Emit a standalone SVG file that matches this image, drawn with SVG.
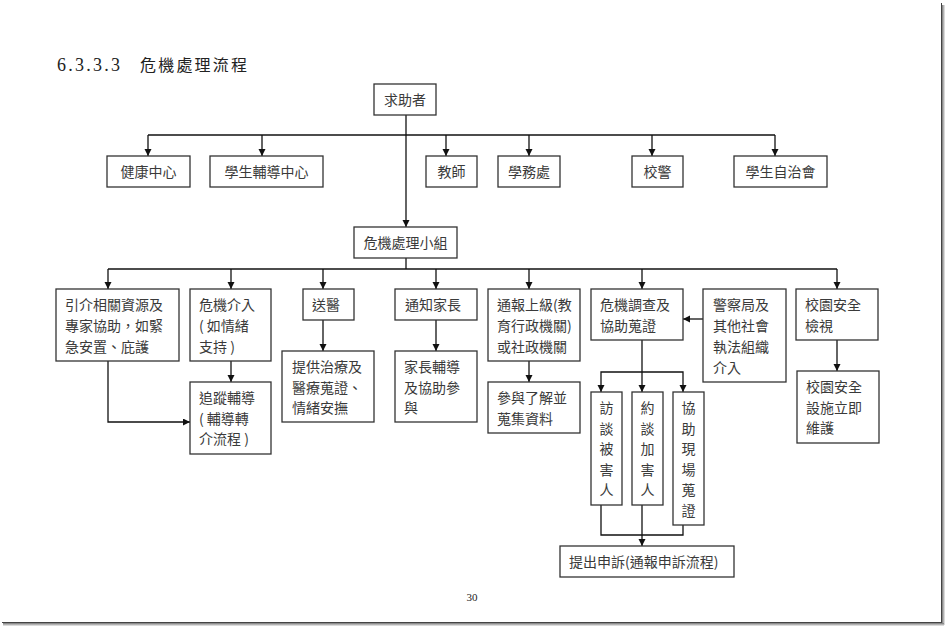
<svg xmlns="http://www.w3.org/2000/svg" width="945" height="627" viewBox="0 0 945 627">
<defs>
<marker id="ah" markerUnits="userSpaceOnUse" markerWidth="8" markerHeight="8" refX="7" refY="3.5" orient="auto">
<path d="M0,0 L7,3.5 L0,7 z" fill="#111"/>
</marker>
<linearGradient id="shR" x1="0" y1="0" x2="1" y2="0"><stop offset="0" stop-color="#777"/><stop offset="1" stop-color="#eee"/></linearGradient>
<linearGradient id="shB" x1="0" y1="0" x2="0" y2="1"><stop offset="0" stop-color="#777"/><stop offset="1" stop-color="#eee"/></linearGradient>
</defs>
<style>
.box{fill:#fff;stroke:#333;stroke-width:1.3}
.t{font-family:"Noto Sans CJK TC","Noto Sans CJK SC",sans-serif;font-size:14px;fill:#3a3a3a}
.c{text-anchor:middle}
.ln{fill:none;stroke:#111;stroke-width:1.3}
</style>
<rect width="945" height="627" fill="#fff"/>
<!-- page frame -->
<rect x="942" y="5" width="3" height="620" fill="url(#shR)"/>
<rect x="3" y="623" width="941" height="3" fill="url(#shB)"/>
<line x1="941.5" y1="3" x2="941.5" y2="623" stroke="#444" stroke-width="1"/>
<line x1="2" y1="622.5" x2="942" y2="622.5" stroke="#444" stroke-width="1"/>

<text x="57" y="71" font-family="Liberation Serif, serif" font-size="18" fill="#222" textLength="63" lengthAdjust="spacing">6.3.3.3</text>
<text x="140" y="71" font-family="Noto Sans CJK TC, sans-serif" font-size="16" fill="#222" letter-spacing="2.2">危機處理流程</text>

<g id="connectors">
<path class="ln" d="M406 115 V227" marker-end="url(#ah)"/>
<path class="ln" d="M148 135 H775"/>
<path class="ln" d="M148 135 V156" marker-end="url(#ah)"/>
<path class="ln" d="M262 135 V156" marker-end="url(#ah)"/>
<path class="ln" d="M446 135 V156" marker-end="url(#ah)"/>
<path class="ln" d="M529 135 V156" marker-end="url(#ah)"/>
<path class="ln" d="M652 135 V156" marker-end="url(#ah)"/>
<path class="ln" d="M775 135 V156" marker-end="url(#ah)"/>
<path class="ln" d="M406 258 V269"/>
<path class="ln" d="M108 269 H837"/>
<path class="ln" d="M108 269 V289" marker-end="url(#ah)"/>
<path class="ln" d="M231 269 V289" marker-end="url(#ah)"/>
<path class="ln" d="M323 269 V289" marker-end="url(#ah)"/>
<path class="ln" d="M436 269 V289" marker-end="url(#ah)"/>
<path class="ln" d="M529 269 V289" marker-end="url(#ah)"/>
<path class="ln" d="M642 269 V289" marker-end="url(#ah)"/>
<path class="ln" d="M837 269 V289" marker-end="url(#ah)"/>
<path class="ln" d="M108 361 V422 H190" marker-end="url(#ah)"/>
<path class="ln" d="M231 361 V382" marker-end="url(#ah)"/>
<path class="ln" d="M323 320 V351" marker-end="url(#ah)"/>
<path class="ln" d="M436 320 V351" marker-end="url(#ah)"/>
<path class="ln" d="M529 361 V382" marker-end="url(#ah)"/>
<path class="ln" d="M703 319 H683" marker-end="url(#ah)"/>
<path class="ln" d="M837 340 V371" marker-end="url(#ah)"/>
<path class="ln" d="M642 340 V392" marker-end="url(#ah)"/>
<path class="ln" d="M642 372 H601 V392" marker-end="url(#ah)"/>
<path class="ln" d="M642 372 H683 V392" marker-end="url(#ah)"/>
<path class="ln" d="M601 505 V535 H683 V525"/>
<path class="ln" d="M642 505 V546" marker-end="url(#ah)"/>
</g>

<g id="n-qiuzhu"><rect class="box" x="374" y="84" width="62" height="31"/><text class="t c" x="405" y="104.5">求助者</text></g>
<g id="n-jiankang"><rect class="box" x="107" y="156" width="83" height="31"/><text class="t c" x="148.5" y="176.5">健康中心</text></g>
<g id="n-xuesheng"><rect class="box" x="210" y="156" width="113" height="31"/><text class="t c" x="266.5" y="176.5">學生輔導中心</text></g>
<g id="n-jiaoshi"><rect class="box" x="426" y="156" width="51" height="31"/><text class="t c" x="451.5" y="176.5">教師</text></g>
<g id="n-xuewu"><rect class="box" x="498" y="156" width="62" height="31"/><text class="t c" x="529" y="176.5">學務處</text></g>
<g id="n-xiaojing"><rect class="box" x="632" y="156" width="51" height="31"/><text class="t c" x="657.5" y="176.5">校警</text></g>
<g id="n-zizhi"><rect class="box" x="734" y="156" width="93" height="31"/><text class="t c" x="780.5" y="176.5">學生自治會</text></g>

<g id="n-xiaozu"><rect class="box" x="354" y="227" width="103" height="31"/><text class="t c" x="405.5" y="247.5">危機處理小組</text></g>

<g id="n-yinjie"><rect class="box" x="56" y="289" width="123" height="72"/>
<text class="t" x="65" y="310">引介相關資源及</text><text class="t" x="65" y="331">專家協助，如緊</text><text class="t" x="65" y="352">急安置、庇護</text></g>
<g id="n-weiji"><rect class="box" x="190" y="289" width="81" height="72"/>
<text class="t" x="199" y="310">危機介入</text><text class="t" x="199" y="331">(  如情緒</text><text class="t" x="199" y="352">支持 )</text></g>
<g id="n-songyi"><rect class="box" x="303" y="289" width="51" height="31"/><text class="t" x="312" y="310">送醫</text></g>
<g id="n-tongzhi"><rect class="box" x="395" y="289" width="82" height="31"/><text class="t" x="405" y="310">通知家長</text></g>
<g id="n-tongbao"><rect class="box" x="488" y="289" width="92" height="72"/>
<text class="t" x="497" y="310">通報上級(教</text><text class="t" x="497" y="331">育行政機關)</text><text class="t" x="497" y="352">或社政機關</text></g>
<g id="n-diaocha"><rect class="box" x="591" y="289" width="92" height="51"/>
<text class="t" x="600" y="310">危機調查及</text><text class="t" x="600" y="331">協助蒐證</text></g>
<g id="n-jingcha"><rect class="box" x="703" y="289" width="83" height="93"/>
<text class="t" x="713" y="310">警察局及</text><text class="t" x="713" y="331">其他社會</text><text class="t" x="713" y="352">執法組織</text><text class="t" x="713" y="373">介入</text></g>
<g id="n-jianshi"><rect class="box" x="796" y="289" width="82" height="51"/>
<text class="t" x="805" y="310">校園安全</text><text class="t" x="805" y="331">檢視</text></g>

<g id="n-zhuizong"><rect class="box" x="190" y="382" width="81" height="72"/>
<text class="t" x="199" y="403">追蹤輔導</text><text class="t" x="199" y="423.5">(  輔導轉</text><text class="t" x="199" y="444">介流程 )</text></g>
<g id="n-zhiliao"><rect class="box" x="282" y="351" width="92" height="71"/>
<text class="t" x="292" y="372">提供治療及</text><text class="t" x="292" y="392.5">醫療蒐證、</text><text class="t" x="292" y="413">情緒安撫</text></g>
<g id="n-jiazhang"><rect class="box" x="395" y="351" width="82" height="71"/>
<text class="t" x="404" y="372">家長輔導</text><text class="t" x="404" y="392.5">及協助參</text><text class="t" x="404" y="413">與</text></g>
<g id="n-canyu"><rect class="box" x="488" y="382" width="92" height="51"/>
<text class="t" x="497" y="403">參與了解並</text><text class="t" x="497" y="423.5">蒐集資料</text></g>
<g id="n-sheshi"><rect class="box" x="797" y="371" width="82" height="72"/>
<text class="t" x="806" y="392">校園安全</text><text class="t" x="806" y="412.5">設施立即</text><text class="t" x="806" y="433">維護</text></g>

<g id="n-fangtan"><rect class="box" x="591" y="392" width="31" height="113"/>
<text class="t c" x="606.5" y="413">訪</text><text class="t c" x="606.5" y="433.5">談</text><text class="t c" x="606.5" y="454">被</text><text class="t c" x="606.5" y="474.5">害</text><text class="t c" x="606.5" y="495">人</text></g>
<g id="n-yuetan"><rect class="box" x="632" y="392" width="31" height="113"/>
<text class="t c" x="647.5" y="413">約</text><text class="t c" x="647.5" y="433.5">談</text><text class="t c" x="647.5" y="454">加</text><text class="t c" x="647.5" y="474.5">害</text><text class="t c" x="647.5" y="495">人</text></g>
<g id="n-xianchang"><rect class="box" x="673" y="392" width="31" height="133"/>
<text class="t c" x="688.5" y="413">協</text><text class="t c" x="688.5" y="433.5">助</text><text class="t c" x="688.5" y="454">現</text><text class="t c" x="688.5" y="474.5">場</text><text class="t c" x="688.5" y="495">蒐</text><text class="t c" x="688.5" y="515.5">證</text></g>

<g id="n-shensu"><rect class="box" x="560" y="546" width="174" height="31"/><text class="t" x="569" y="566.5">提出申訴(通報申訴流程)</text></g>

<text x="472" y="601" font-family="Liberation Serif, serif" font-size="11" fill="#222" text-anchor="middle">30</text>
</svg>
